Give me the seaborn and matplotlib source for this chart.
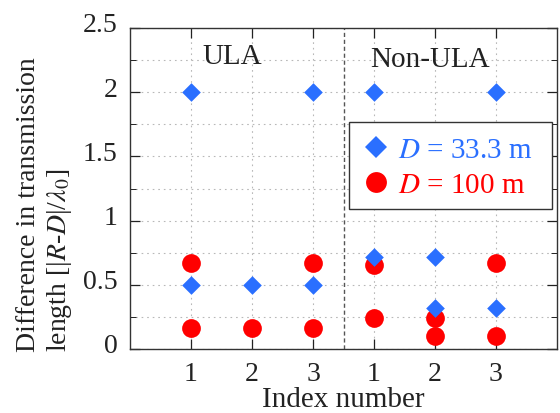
import numpy as np
import pandas as pd
import matplotlib
matplotlib.use("Agg")
import matplotlib.pyplot as plt
import matplotlib.transforms as mtransforms
import seaborn as sns
from matplotlib.ticker import MultipleLocator, FixedLocator, FixedFormatter
from matplotlib.lines import Line2D
from matplotlib.patches import Rectangle

# ---- data ----
tick_labels = ["1", "2", "3", "1", "2", "3"]
groups = ["ULA", "Non-ULA"]
# x positions (index slots 1..6)
d33_x = [1, 1, 2, 3, 3, 4, 4, 5, 5, 6, 6]
d33_y = [2.0, 0.5, 0.5, 2.0, 0.5, 2.0, 0.715, 0.715, 0.32, 2.0, 0.32]
d100_x = [1, 1, 2, 3, 3, 4, 4, 5, 5, 6, 6]
d100_y = [0.667, 0.167, 0.167, 0.667, 0.167, 0.657, 0.24, 0.24, 0.105, 0.667, 0.105]
series_names = ["D = 33.3 m", "D = 100 m"]

df = pd.DataFrame({
    "x": d33_x + d100_x,
    "y": d33_y + d100_y,
    "series": [series_names[0]] * len(d33_x) + [series_names[1]] * len(d100_x),
})

sns.set_theme(style="white")
plt.rcParams["font.family"] = ["Liberation Serif", "DejaVu Serif"]
plt.rcParams["mathtext.fontset"] = "stix"

blue = "#2a6fff"
red = "#ff0000"
ink = "#222222"

fig = plt.figure(figsize=(5.6, 4.14), dpi=100)
ax = fig.add_axes([130 / 560, 1 - 350 / 414, 427 / 560, 321 / 414])


def ax_xy(px, py):
    return ((px - 130) / 427, (350 - py) / 321)


# draw red under blue
sns.scatterplot(data=df[df.series == series_names[1]], x="x", y="y", color=red,
                marker="o", s=13.5 ** 2, edgecolor=red, linewidth=0, ax=ax,
                legend=False, zorder=3)
sns.scatterplot(data=df[df.series == series_names[0]], x="x", y="y", color=blue,
                marker="D", s=9.5 ** 2, edgecolor=blue, linewidth=0, ax=ax,
                legend=False, zorder=4)

ax.set_xlim(0, 7)
ax.set_ylim(0, 2.5)
ax.xaxis.set_major_locator(FixedLocator([1, 2, 3, 4, 5, 6]))
ax.xaxis.set_major_formatter(FixedFormatter(tick_labels))
ax.yaxis.set_major_locator(MultipleLocator(0.5))
ax.yaxis.set_minor_locator(MultipleLocator(0.25))
ax.yaxis.set_major_formatter(matplotlib.ticker.FuncFormatter(lambda v, p: f"{v:g}"))

ax.grid(True, which="major", axis="x", color="#b8b8b8", linestyle=(0, (1.5, 3.5)), linewidth=0.8)
ax.grid(True, which="both", axis="y", color="#b8b8b8", linestyle=(0, (1.5, 3.5)), linewidth=0.8)
ax.set_axisbelow(True)

ax.axvline(3.5, color="#555555", linestyle=(0, (3, 2)), linewidth=1.0, zorder=2)

ax.tick_params(axis="both", which="both", direction="in", top=True, right=True,
               bottom=True, left=True, colors="#222222", labelcolor=ink)
ax.tick_params(axis="both", which="major", length=7, width=0.9, labelsize=20)
ax.tick_params(axis="x", which="major", pad=9)
ax.tick_params(axis="y", which="major", pad=9)
ax.tick_params(axis="y", which="minor", length=4, width=0.7)
for sp in ax.spines.values():
    sp.set_color("#333333")
    sp.set_linewidth(1.0)

# y tick labels sit slightly above their ticks in the reference
shift = mtransforms.ScaledTranslation(0, 6 / 100, fig.dpi_scale_trans)
for lbl in ax.get_yticklabels():
    lbl.set_transform(lbl.get_transform() + shift)

ax.set_xlabel("Index number", fontsize=21, color=ink, labelpad=0)
ax.set_ylabel("")
fig.text(45 / 560, 1 - 205 / 414,
         "Difference in transmission\nlength [|$R$-$D$|/$\\lambda_0$]",
         rotation=90, ha="center", va="center", multialignment="left",
         fontsize=20, color=ink)

ax.text(1.67, 2.28, groups[0], ha="center", va="center", fontsize=21, color=ink)
ax.text(4.92, 2.26, groups[1], ha="center", va="center", fontsize=21, color=ink)

# legend box
x0, y1 = ax_xy(349, 123)
x1, y0 = ax_xy(552, 210)
ax.add_patch(Rectangle((x0, y0), x1 - x0, y1 - y0, transform=ax.transAxes,
                       facecolor="white", edgecolor="#333333", linewidth=1.0,
                       zorder=6, clip_on=False))

handles = [
    Line2D([], [], marker="D", color=blue, linestyle="none", markersize=11, markeredgewidth=0),
    Line2D([], [], marker="o", color=red, linestyle="none", markersize=15, markeredgewidth=0),
]
labels = ["$D$ = 33.3 m", "$D$ = 100 m"]
leg = ax.legend(handles, labels, loc="center left",
                bbox_to_anchor=ax_xy(349, 168.5),
                fontsize=21, frameon=False,
                handletextpad=0.2, borderpad=0.39, labelspacing=0.3, handlelength=1.1,
                borderaxespad=0)
leg.set_zorder(7)
for t, c in zip(leg.get_texts(), [blue, red]):
    t.set_color(c)

fig.savefig("out.png", dpi=100)
